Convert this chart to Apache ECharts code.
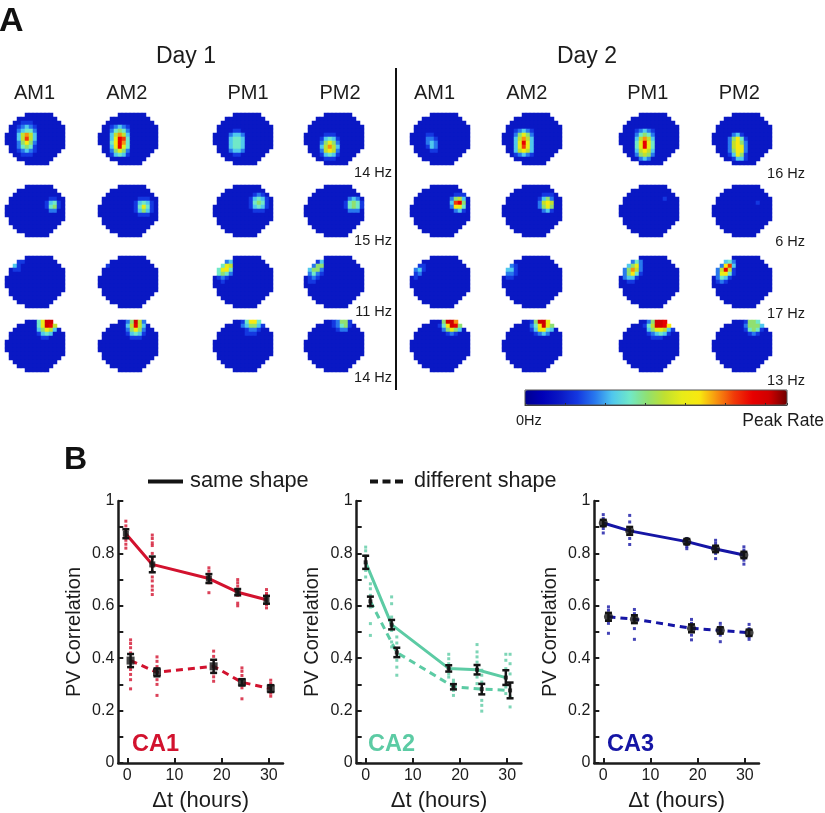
<!DOCTYPE html>
<html>
<head>
<meta charset="utf-8">
<style>html,body{margin:0;padding:0;background:#fff}#c{width:825px;height:813px;filter:blur(0.45px)}</style>
<script src="https://cdn.jsdelivr.net/npm/echarts@6/dist/echarts.min.js"></script>
</head>
<body>
<div id="c"></div>
<script>
// ---------- Panel A data: digits are hex levels 0..f of the peak rate ----------
const diskMask = [
  '.....#######...',
  '...##########..',
  '..############.',
  '.##############',
  '.##############',
  '###############',
  '###############',
  '###############',
  '.##############',
  '.#############.',
  '..###########..',
  '...#########...',
  '.....######....'
];
const backgroundLevel = '2';
// each map lists the cells above background as [row, firstCol, levels]
const day1Row1 = [
  [[2,3,'23332'],[3,3,'34543'],[4,3,'45664'],[5,3,'58b85'],[6,3,'58c85'],[7,3,'47a74'],[8,3,'46763'],[9,3,'34543'],[10,3,'23332']],
  [[3,3,'34543'],[4,3,'46764'],[5,3,'58b85'],[6,3,'59dc6'],[7,3,'6adb6'],[8,3,'59d96'],[9,3,'47974'],[10,3,'35653']],
  [[4,3,'223322'],[5,3,'245542'],[6,3,'256652'],[7,3,'256652'],[8,3,'256652'],[9,3,'245542'],[10,3,'223322']],
  [[5,4,'23332'],[6,4,'35653'],[7,4,'47974'],[8,4,'58b85'],[9,4,'48a84'],[10,4,'35653'],[11,4,'23332']]
];
const day1Row2 = [
  [[3,10,'2332'],[4,10,'3563'],[5,10,'3673'],[6,10,'2442']],
  [[3,9,'23332'],[4,9,'35653'],[5,9,'36963'],[6,9,'35753'],[7,9,'23332']],
  [[2,9,'23432'],[3,9,'35653'],[4,9,'36763'],[5,9,'35653'],[6,9,'23332']],
  [[3,10,'24542'],[4,10,'36763'],[5,10,'36763'],[6,10,'24442']]
];
const day1Row3 = [
  [[1,2,'233'],[2,2,'532'],[3,2,'332']],
  [[2,2,'3']],
  [[1,1,'22452'],[2,1,'26982'],[3,1,'69a62'],[4,1,'67642'],[5,1,'34322'],[6,1,'23222']],
  [[1,1,'22352'],[2,1,'24772'],[3,1,'57742'],[4,1,'46432'],[5,1,'34322'],[6,1,'33222']]
];
const day1Row4 = [
  [[0,7,'269ee'],[1,7,'269ed8'],[2,7,'257a85'],[3,7,'235652'],[4,7,'223322']],
  [[0,6,'247e84'],[1,6,'258d85'],[2,6,'247a74'],[3,6,'235653'],[4,6,'223332']],
  [[0,7,'36aa6'],[1,6,'2457753'],[2,6,'2234432'],[3,6,'2233322']],
  [[0,7,'34773'],[1,7,'34673'],[2,7,'23442']]
];
const day2Row1 = [
  [[5,3,'23322'],[6,3,'24432'],[7,3,'24542'],[8,3,'23542'],[9,3,'22332']],
  [[4,3,'34543'],[5,3,'47974'],[6,3,'58b85'],[7,3,'59d95'],[8,3,'59c95'],[9,3,'58a85'],[10,3,'34543']],
  [[4,4,'34543'],[5,4,'46764'],[6,4,'58b85'],[7,4,'69d96'],[8,4,'69d96'],[9,4,'58a85'],[10,4,'47874'],[11,4,'24542']],
  [[5,4,'24532'],[6,4,'47a63'],[7,4,'48a74'],[8,4,'48a94'],[9,4,'47a94'],[10,4,'35973'],[11,4,'23553']]
];
const day2Row2 = [
  [[2,10,'2333'],[3,10,'4785'],[4,10,'5cd7'],[5,10,'4a96'],[6,10,'2453']],
  [[2,9,'2333'],[3,9,'3574'],[4,9,'48a8'],[5,9,'4797'],[6,9,'2453']],
  [[3,11,'3']],
  [[4,11,'3']]
];
const day2Row3 = [
  [[2,2,'33'],[3,1,'453'],[4,1,'342'],[5,1,'32']],
  [[2,2,'43'],[3,1,'553'],[4,1,'443'],[5,1,'33']],
  [[1,2,'2464'],[2,2,'5794'],[3,1,'47b84'],[4,1,'47a63'],[5,1,'45532'],[6,1,'23322']],
  [[1,2,'3564'],[2,2,'4ac5'],[3,1,'48d83'],[4,1,'49a63'],[5,1,'46532'],[6,1,'34322']]
];
const day2Row4 = [
  [[0,7,'27eeb'],[1,7,'36aed7'],[2,7,'247975'],[3,7,'223432']],
  [[0,7,'37ee9'],[1,7,'46ae97'],[2,7,'359a65'],[3,7,'234542']],
  [[0,6,'247eed'],[1,6,'368eeda5'],[2,6,'25799853'],[3,6,'23456532'],[4,7,'233322']],
  [[0,8,'3776'],[1,8,'47775'],[2,8,'36763'],[3,8,'23432']]
];
const sessionLabels = ['AM1','AM2','PM1','PM2'];
const dayLabels = ['Day 1','Day 2'];
const day1PeakLabels = ['14 Hz','15 Hz','11 Hz','14 Hz'];
const day2PeakLabels = ['16 Hz','6 Hz','17 Hz','13 Hz'];

// ---------- Panel B data ----------
const xTickValues = [0,10,20,30];
const yLabelValues = [0,0.2,0.4,0.6,0.8,1];

const ca1SameT = [-0.3,5.3,17.3,23.4,29.5];
const ca1SameR = [0.875,0.758,0.704,0.652,0.623];
const ca1SameE = [0.017,0.03,0.017,0.012,0.015];
const ca1SameDots = [[0.923,0.905,0.89,0.86,0.85,0.835,0.82],[0.87,0.857,0.84,0.83,0.8,0.78,0.75,0.73,0.71,0.695,0.675,0.66,0.643],[0.745,0.732,0.715,0.688,0.65],[0.7,0.688,0.675,0.64,0.61,0.6],[0.662,0.647,0.64,0.605,0.592]];
const ca1DiffT = [0.7,6.3,18.3,24.3,30.4];
const ca1DiffR = [0.391,0.346,0.369,0.308,0.284];
const ca1DiffE = [0.025,0.015,0.025,0.012,0.013];
const ca1DiffDots = [[0.47,0.456,0.44,0.42,0.357,0.338,0.318,0.283],[0.405,0.388,0.368,0.318,0.3,0.258],[0.427,0.407,0.344,0.329,0.312],[0.363,0.35,0.334,0.287,0.245],[0.316,0.303,0.267,0.255]];

const ca2SameT = [0,5.5,17.6,23.6,29.7];
const ca2SameR = [0.766,0.528,0.361,0.356,0.326];
const ca2SameE = [0.025,0.018,0.012,0.018,0.028];
const ca2SameDots = [[0.824,0.81,0.79,0.735,0.71],[0.634,0.608,0.557,0.506,0.462,0.443],[0.415,0.398,0.379,0.34,0.328],[0.452,0.424,0.405,0.385,0.328,0.303],[0.415,0.392,0.36,0.29,0.265]];
const ca2DiffT = [1,6.6,18.6,24.6,30.6];
const ca2DiffR = [0.617,0.422,0.291,0.282,0.277];
const ca2DiffE = [0.018,0.018,0.01,0.02,0.03];
const ca2DiffDots = [[0.684,0.665,0.64,0.595,0.532,0.487],[0.481,0.458,0.392,0.366,0.335],[0.316,0.306,0.277,0.258],[0.354,0.335,0.309,0.239,0.22,0.198],[0.415,0.379,0.34,0.252,0.214]];

const ca3SameT = [0,5.6,17.7,23.8,29.8];
const ca3SameR = [0.916,0.886,0.845,0.817,0.794];
const ca3SameE = [0.012,0.015,0.01,0.012,0.012];
const ca3SameDots = [[0.948,0.933,0.895,0.878],[0.945,0.92,0.857,0.834],[0.857,0.827,0.818],[0.85,0.838,0.8,0.78],[0.825,0.812,0.774,0.759]];
const ca3DiffT = [1.1,6.6,18.7,24.8,30.9];
const ca3DiffR = [0.558,0.549,0.514,0.506,0.497];
const ca3DiffE = [0.015,0.015,0.015,0.012,0.012];
const ca3DiffDots = [[0.596,0.583,0.533,0.495],[0.586,0.57,0.513,0.472],[0.548,0.533,0.488,0.47],[0.533,0.52,0.488,0.463],[0.529,0.513,0.482,0.472]];

const regionNames = ['CA1','CA2','CA3'];
const legendLabels = ['same shape','different shape'];
const colorbarLabels = ['0Hz','Peak Rate'];
const panelLabels = ['A','B'];

// ---------- layout and style ----------
const FONT = '"Liberation Sans", Arial, sans-serif';
const INK = '#1c1c1c';
const rateColors = ['#000090','#0000b8','#0a18c4','#1438e0','#2878ee','#50c8ee','#70e8c8','#90e070','#c0e030','#e8ec18','#f8e810','#f89010','#f03808','#e80000','#d00000','#700000'];
const mapW = 60, mapH = 52;
const mapLefts = [[5,98,213,304],[410,502,619,712]];
const mapTops = [113,185,256,320];
const regionColors = ['#d2122e','#5ccba4','#1515a5'];
const panelLefts = [118.3,356.7,594.3];
const regionText = [132,368,607];
const markers = [['rect',6,'rect',8],['rect',4,'rect',4],['circle',9,'circle',9]];

const grids = [], xAxes = [], yAxes = [], series = [], graphics = [];
const xCats = diskMask[0].split('').map((_, i) => i);
const yCats = diskMask.map((_, i) => i);

function mapCells(patches) {
  const lv = diskMask.map(r => r.split('').map(ch => ch === '#' ? backgroundLevel : null));
  patches.forEach(([r, c, s]) => s.split('').forEach((ch, i) => {
    if (lv[r] && lv[r][c + i] !== null && lv[r][c + i] !== undefined) lv[r][c + i] = ch;
  }));
  const out = [];
  lv.forEach((row, r) => row.forEach((ch, c) => {
    if (ch !== null) out.push([c, r, parseInt(ch, 16) / 15]);
  }));
  return out;
}
const heatIdx = [];
function addMap(patches, left, top) {
  const i = grids.length;
  grids.push({left, top, width: mapW, height: mapH, outerBoundsMode:'none'});
  xAxes.push({type:'category', gridIndex:i, data:xCats, show:false});
  yAxes.push({type:'category', gridIndex:i, data:yCats, inverse:true, show:false});
  heatIdx.push(series.length);
  series.push({type:'heatmap', xAxisIndex:i, yAxisIndex:i, data:mapCells(patches), silent:true, progressive:0, animation:false, itemStyle:{borderWidth:0}, emphasis:{disabled:true}});
}
[[day1Row1,day1Row2,day1Row3,day1Row4],[day2Row1,day2Row2,day2Row3,day2Row4]].forEach((rows, d) => {
  rows.forEach((row, r) => row.forEach((patches, k) => addMap(patches, mapLefts[d][k], mapTops[r])));
});

function addPanel(p, same, diff) {
  const i = grids.length, col = regionColors[p];
  grids.push({left: panelLefts[p], top: 501, width: 164.7, height: 262, outerBoundsMode:'none'});
  xAxes.push({type:'value', gridIndex:i, min:-1.9, max:33, name:'\u0394t (hours)', nameLocation:'middle', nameGap:27,
    nameTextStyle:{fontFamily:FONT, fontSize:22, color:INK},
    axisLine:{onZero:false, lineStyle:{color:INK, width:2.5}},
    axisTick:{inside:true, length:5, customValues:xTickValues, lineStyle:{color:INK, width:2}},
    axisLabel:{customValues:xTickValues, fontFamily:FONT, fontSize:16, color:INK, margin:5},
    splitLine:{show:false}});
  yAxes.push({type:'value', gridIndex:i, min:0, max:1, interval:0.1, name:'PV Correlation', nameLocation:'middle', nameGap:34,
    nameTextStyle:{fontFamily:FONT, fontSize:20, color:INK},
    axisLine:{onZero:false, lineStyle:{color:INK, width:2.5}},
    axisTick:{inside:true, length:5, lineStyle:{color:INK, width:2}},
    axisLabel:{customValues:yLabelValues, fontFamily:FONT, fontSize:16, color:INK, margin:4},
    splitLine:{show:false}});
  const mk = markers[p];
  [same, diff].forEach((s, j) => {
    const dots = [];
    s.dots.forEach((ys, k) => ys.forEach(y => dots.push([s.t[k], y])));
    series.push({type:'scatter', xAxisIndex:i, yAxisIndex:i, data:dots, symbol:'rect', symbolSize:3, itemStyle:{color:col}, silent:true, animation:false, z:2});
    series.push({type:'line', xAxisIndex:i, yAxisIndex:i, data:s.t.map((x,k)=>[x,s.r[k]]),
      lineStyle:{color:col, width:3, type: j ? [7,5] : 'solid'}, symbol:'none', silent:true, animation:false, z:3});
    series.push({type:'custom', xAxisIndex:i, yAxisIndex:i, data:s.t.map((x,k)=>[x,s.r[k],s.e[k]]), silent:true, animation:false, z:4,
      encode:{x:0,y:1},
      renderItem:(params, api) => {
        const x = api.value(0), y = api.value(1), e = api.value(2);
        const a = api.coord([x, y + e]), b = api.coord([x, y - e]);
        const st = {stroke:'#141414', lineWidth:2.5, fill:null};
        return {type:'group', children:[
          {type:'line', shape:{x1:a[0],y1:a[1],x2:b[0],y2:b[1]}, style:st},
          {type:'line', shape:{x1:a[0]-3.5,y1:a[1],x2:a[0]+3.5,y2:a[1]}, style:st},
          {type:'line', shape:{x1:b[0]-3.5,y1:b[1],x2:b[0]+3.5,y2:b[1]}, style:st}
        ]};
      }});
    series.push({type:'scatter', xAxisIndex:i, yAxisIndex:i, data:s.t.map((x,k)=>[x,s.r[k]]), symbol:mk[j*2], symbolSize:mk[j*2+1], itemStyle:{color:'#141414'}, silent:true, animation:false, z:5});
  });
}
addPanel(0,{t:ca1SameT,r:ca1SameR,e:ca1SameE,dots:ca1SameDots},{t:ca1DiffT,r:ca1DiffR,e:ca1DiffE,dots:ca1DiffDots});
addPanel(1,{t:ca2SameT,r:ca2SameR,e:ca2SameE,dots:ca2SameDots},{t:ca2DiffT,r:ca2DiffR,e:ca2DiffE,dots:ca2DiffDots});
addPanel(2,{t:ca3SameT,r:ca3SameR,e:ca3SameE,dots:ca3SameDots},{t:ca3DiffT,r:ca3DiffR,e:ca3DiffE,dots:ca3DiffDots});

// colour bar tick marks, on an axis laid over the visualMap bar
{
  const i = grids.length;
  grids.push({left:525, top:390, width:262, height:15, outerBoundsMode:'none'});
  xAxes.push({type:'value', gridIndex:i, min:0, max:6.55, interval:1, axisLine:{onZero:false, lineStyle:{color:'#333', width:1}}, axisTick:{inside:true, length:2, lineStyle:{color:'#222'}}, axisLabel:{show:false}, splitLine:{show:false}, z:20});
  yAxes.push({type:'value', gridIndex:i, min:0, max:1, show:false});
  graphics.push({type:'rect', z:30, shape:{x:525,y:390,width:262,height:15}, style:{fill:null, stroke:'#555', lineWidth:1}, silent:true});
}

function label(text, x, y, size, align, opts) {
  graphics.push({type:'text', z:30, x, y, style:{text, font:(opts&&opts.weight||'normal')+' '+size+'px '+FONT, fill:(opts&&opts.fill)||INK, textAlign:align, textVerticalAlign:'middle'}, silent:true});
}
label(panelLabels[0], -1, 22, 34, 'left', {weight:'bold', fill:'#111'});
label(panelLabels[1], 64, 460, 32, 'left', {weight:'bold', fill:'#111'});
label(dayLabels[0], 186, 57, 23, 'center');
label(dayLabels[1], 587, 57, 23, 'center');
const labelCx = [[34.5,126.7,248,340],[434.5,526.7,647.7,739.3]];
labelCx.forEach(row => row.forEach((x, k) => label(sessionLabels[k], x, 93, 20, 'center')));
const peakY = [[173,241,312,378],[174,242,314,381]];
day1PeakLabels.forEach((t, k) => label(t, 392, peakY[0][k], 14.5, 'right'));
day2PeakLabels.forEach((t, k) => label(t, 805, peakY[1][k], 14.5, 'right'));
label(colorbarLabels[0], 516, 421, 14.5, 'left');
label(colorbarLabels[1], 824, 421, 17.5, 'right');
label(legendLabels[0], 190, 481, 21.8, 'left');
label(legendLabels[1], 414, 481, 21.6, 'left');
regionNames.forEach((t, p) => label(t, regionText[p], 745, 23.5, 'left', {weight:'bold', fill:regionColors[p]}));
graphics.push({type:'line', z:30, shape:{x1:396,y1:68,x2:396,y2:390}, style:{stroke:'#111', lineWidth:2}, silent:true});
graphics.push({type:'line', z:30, shape:{x1:148,y1:481.5,x2:183,y2:481.5}, style:{stroke:'#141414', lineWidth:4}, silent:true});
graphics.push({type:'line', z:30, shape:{x1:370,y1:481.5,x2:407,y2:481.5}, style:{stroke:'#141414', lineWidth:4, lineDash:[8,4.5]}, silent:true});

const chart = echarts.init(document.getElementById('c'), null, {renderer:'canvas'});
chart.setOption({
  animation:false,
  backgroundColor:'#ffffff',
  textStyle:{fontFamily:FONT},
  grid:grids, xAxis:xAxes, yAxis:yAxes, series,
  visualMap:{type:'continuous', min:0, max:1, seriesIndex:heatIdx, orient:'horizontal', left:525, top:390, padding:0,
    itemWidth:15, itemHeight:262, calculable:false, realtime:false, hoverLink:false, showLabel:false, text:null,
    inRange:{color:rateColors}},
  graphic:graphics
});
</script>
</body>
</html>
